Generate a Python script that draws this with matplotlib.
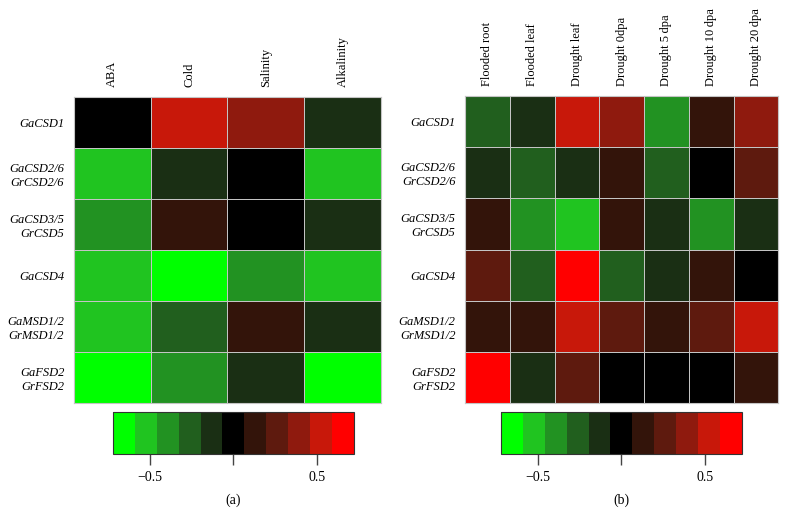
import numpy as np
import matplotlib
matplotlib.use("Agg")
from matplotlib import pyplot as plt
from matplotlib.colors import ListedColormap, BoundaryNorm

plt.rcParams["font.family"] = ["Liberation Serif", "DejaVu Serif"]

# Row labels (shared by both panels)
genes = ["GaCSD1", "GaCSD2/6\nGrCSD2/6", "GaCSD3/5\nGrCSD5", "GaCSD4",
         "GaMSD1/2\nGrMSD1/2", "GaFSD2\nGrFSD2"]

# Panel (a) treatments
treat_a = ["ABA", "Cold", "Salinity", "Alkalinity"]
aba = [0.0, -0.52, -0.39, -0.52, -0.52, -0.65]
cold = [0.52, -0.13, 0.13, -0.65, -0.26, -0.39]
salinity = [0.39, 0.0, 0.0, -0.39, 0.13, -0.13]
alkalinity = [-0.13, -0.52, -0.13, -0.52, -0.13, -0.65]

# Panel (b) tissues / stages
treat_b = ["Flooded root", "Flooded leaf", "Drought leaf", "Drought 0dpa",
           "Drought 5\u2009dpa", "Drought 10\u2009dpa", "Drought 20\u2009dpa"]
flooded_root = [-0.26, -0.13, 0.13, 0.26, 0.13, 0.65]
flooded_leaf = [-0.13, -0.26, -0.39, -0.26, 0.13, -0.13]
drought_leaf = [0.52, -0.13, -0.52, 0.65, 0.52, 0.26]
drought_0dpa = [0.39, 0.13, 0.13, -0.26, 0.26, 0.0]
drought_5dpa = [-0.39, -0.26, -0.13, -0.13, 0.13, 0.0]
drought_10dpa = [0.13, 0.0, -0.39, 0.13, 0.26, 0.0]
drought_20dpa = [0.39, 0.26, -0.13, 0.0, 0.52, 0.13]

# 11-step green-black-red palette
COLORS = ["#00FF00", "#20C420", "#229222", "#215F1E", "#1A2F14", "#000000",
          "#33140A", "#5E1A0E", "#8F1A0E", "#C8180A", "#FF0000"]
cmap = ListedColormap(COLORS)
bounds = np.linspace(-0.72, 0.72, 12)
norm = BoundaryNorm(bounds, cmap.N)

grid = "#c4c4c4"


def heat(ax, data, cols):
    data = np.array(data).T
    ax.pcolormesh(data, cmap=cmap, norm=norm, edgecolors=grid, linewidth=0.7)
    ax.invert_yaxis()
    ax.set_xticks(np.arange(len(cols)) + 0.5)
    ax.set_xticklabels(cols, rotation=90, fontsize=9)
    ax.xaxis.tick_top()
    ax.set_yticks(np.arange(len(genes)) + 0.5)
    ax.set_yticklabels(genes, fontsize=9, style="italic",
                       ha="right", multialignment="right")
    ax.tick_params(length=0, pad=7)
    for s in ax.spines.values():
        s.set_color(grid)
        s.set_linewidth(0.8)


def cbar(fig, rect, label):
    cax = fig.add_axes(rect)
    cb = fig.colorbar(plt.cm.ScalarMappable(norm=norm, cmap=cmap), cax=cax,
                      orientation="horizontal", ticks=[-0.5, 0, 0.5])
    cb.ax.minorticks_off()
    cb.ax.set_xticklabels(["\u22120.5", "", "0.5"], fontsize=10)
    cb.ax.tick_params(which="both", length=8, width=1, color="#444444", pad=4)
    cb.outline.set_edgecolor("#333333")
    cb.outline.set_linewidth(0.8)
    fig.text(rect[0] + rect[2] / 2, 0.035, label, ha="center", fontsize=10)


fig = plt.figure(figsize=(7.87, 5.22), dpi=100)

ax_a = fig.add_axes([0.094, 0.228, 0.390, 0.586])
heat(ax_a, [aba, cold, salinity, alkalinity], treat_a)

ax_b = fig.add_axes([0.591, 0.228, 0.398, 0.588])
heat(ax_b, [flooded_root, flooded_leaf, drought_leaf, drought_0dpa,
            drought_5dpa, drought_10dpa, drought_20dpa], treat_b)

cbar(fig, [0.1436, 0.130, 0.306, 0.080], "(a)")
cbar(fig, [0.6366, 0.130, 0.306, 0.080], "(b)")

fig.savefig("out.png", dpi=100)
